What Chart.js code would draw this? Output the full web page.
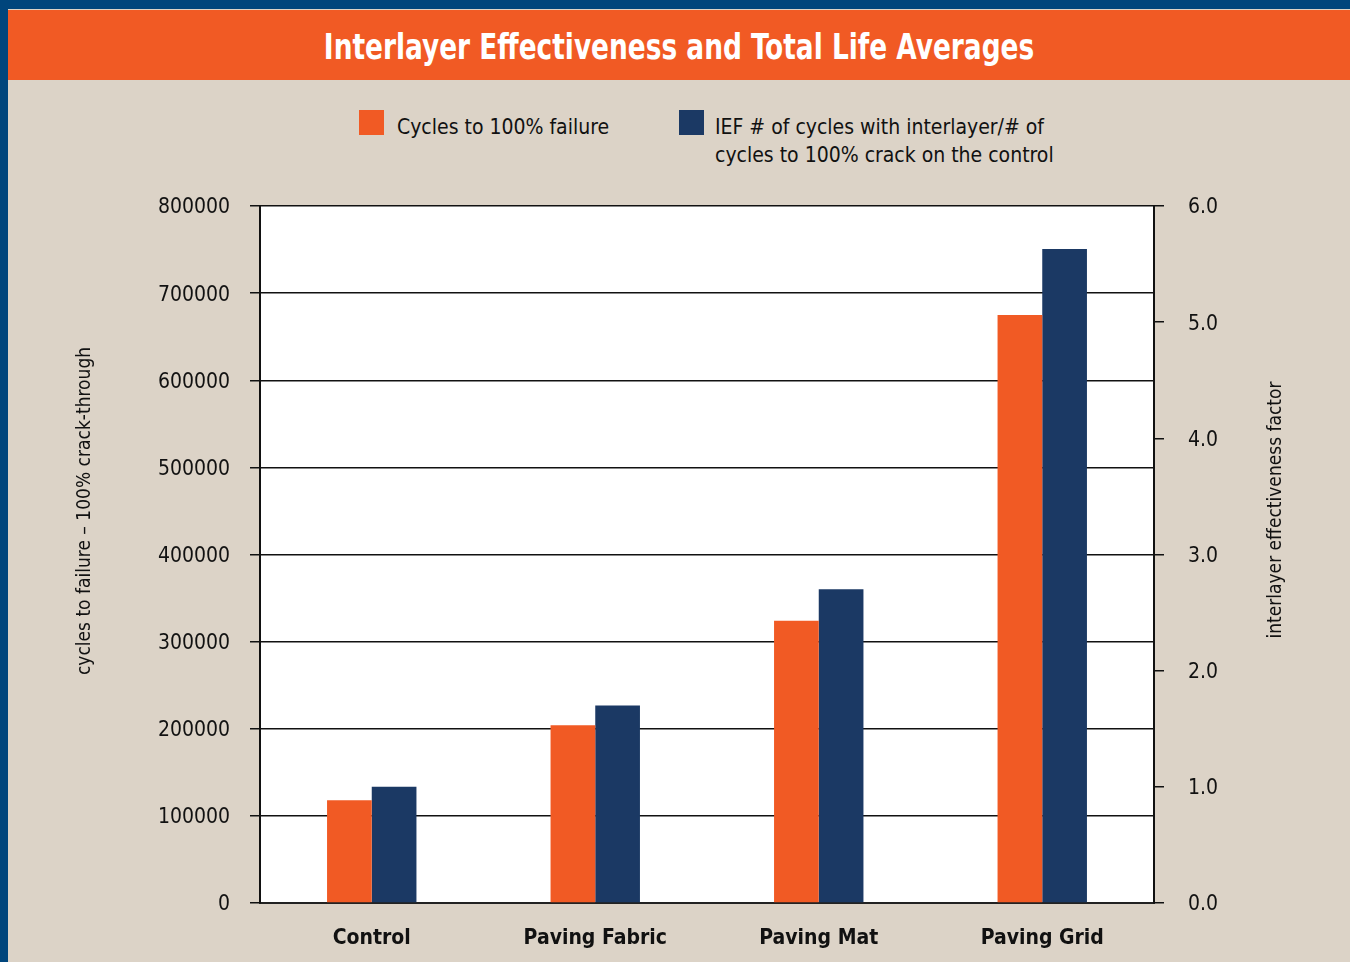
<!DOCTYPE html>
<html>
<head>
<meta charset="utf-8">
<script src="https://cdn.jsdelivr.net/npm/chart.js@4.4.1/dist/chart.umd.min.js"></script>
<style>
  html, body { margin: 0; padding: 0; }
  body {
    width: 1350px; height: 962px; overflow: hidden; position: relative;
    background: #00457c;
    font-family: 'DejaVu Sans Condensed', 'Liberation Sans Narrow', sans-serif;
    color: #111;
  }
  #panel { position: absolute; left: 8px; top: 9px; right: 0; bottom: 0; background: #dcd3c7; }
  #banner {
    position: absolute; left: 8px; top: 10px; width: 1342px; height: 70px;
    background: #f15a24;
  }
  #banner span {
    position: absolute; left: 0; right: 0; top: 2px; text-align: center;
    color: #fff; font-weight: bold; font-size: 36px; line-height: 70px;
    transform: scaleX(0.815);
  }
  .swatch { position: absolute; top: 110px; width: 25px; height: 25px; }
  .ltext { position: absolute; font-size: 21px; line-height: 28px; white-space: nowrap; }
  #chart { position: absolute; left: 0; top: 0; }
</style>
</head>
<body>
<div id="panel"></div>
<div id="banner"><span>Interlayer Effectiveness and Total Life Averages</span></div>
<div class="swatch" style="left:359px;background:#f15a24"></div>
<div class="ltext" style="left:397px;top:113px">Cycles to 100% failure</div>
<div class="swatch" style="left:679px;background:#1b3964"></div>
<div class="ltext" style="left:715px;top:113px">IEF # of cycles with interlayer/# of<br>cycles to 100% crack on the control</div>
<canvas id="chart" width="1350" height="962"></canvas>
<script>
// 数据
const categories = ['Control', 'Paving Fabric', 'Paving Mat', 'Paving Grid'];
const cyclesToFailure = [118000, 204000, 324000, 675000];
const iefValues = [1.0, 1.7, 2.7, 5.63];
const seriesNames = ['Cycles to 100% failure', 'IEF # of cycles with interlayer/# of cycles to 100% crack on the control'];
const leftTitle = 'cycles to failure \u2013 100% crack-through';
const rightTitle = 'interlayer effectiveness factor';

const FONT = "'DejaVu Sans Condensed', 'Liberation Sans Narrow', sans-serif";
const ORANGE = '#f15a24';
const NAVY = '#1b3964';

// 两侧竖排轴标题（右侧也是从下往上读）
const axisTitles = {
  id: 'axisTitles',
  afterDraw(chart) {
    const { ctx, chartArea } = chart;
    ctx.save();
    ctx.fillStyle = '#111';
    ctx.font = '19px ' + FONT;
    ctx.textAlign = 'center';
    ctx.textBaseline = 'middle';

    ctx.save();
    ctx.translate(chartArea.left - 175, chartArea.top + 305);
    ctx.rotate(-Math.PI / 2);
    ctx.fillText(leftTitle, 0, 0);
    ctx.restore();

    ctx.save();
    ctx.translate(chartArea.right + 122, chartArea.top + 304);
    ctx.rotate(-Math.PI / 2);
    ctx.fillText(rightTitle, 0, 0);
    ctx.restore();

    ctx.restore();
  }
};

new Chart(document.getElementById('chart'), {
  type: 'bar',
  data: {
    labels: categories,
    datasets: [
      { label: seriesNames[0], data: cyclesToFailure, backgroundColor: ORANGE, yAxisID: 'y' },
      { label: seriesNames[1], data: iefValues, backgroundColor: NAVY, yAxisID: 'y2' }
    ]
  },
  options: {
    responsive: false,
    animation: false,
    devicePixelRatio: 1,
    categoryPercentage: 0.4,
    barPercentage: 1.0,
    layout: { padding: { top: 206, left: 0, right: 0, bottom: 0 } },
    plugins: {
      legend: { display: false },
      tooltip: { enabled: false }
    },
    scales: {
      x: {
        grid: { display: false, drawTicks: false },
        border: { color: '#222', width: 2 },
        ticks: { color: '#111', padding: 23, font: { family: FONT, size: 21, weight: 'bold' } },
        afterFit(s) { s.height = 59; }
      },
      y: {
        position: 'left',
        min: 0, max: 800000,
        ticks: {
          stepSize: 100000, color: '#111', padding: 20, labelOffset: 2,
          font: { family: FONT, size: 21 },
          callback: v => String(v)
        },
        grid: { color: '#111', lineWidth: 1.5, tickLength: 10 },
        border: { color: '#111', width: 2 },
        afterFit(s) { s.width = 260; }
      },
      y2: {
        position: 'right',
        min: 0, max: 6,
        ticks: {
          stepSize: 1, color: '#111', padding: 24, labelOffset: 2,
          font: { family: FONT, size: 21 },
          callback: v => v.toFixed(1)
        },
        grid: { drawOnChartArea: false, color: '#111', lineWidth: 1.5, tickLength: 10 },
        border: { color: '#111', width: 2 },
        afterFit(s) { s.width = 196; }
      }
    }
  },
  plugins: [
    {
      id: 'plotBg',
      beforeDraw(chart) {
        const { ctx, chartArea: a } = chart;
        ctx.save();
        ctx.fillStyle = '#ffffff';
        ctx.fillRect(a.left, a.top, a.right - a.left, a.bottom - a.top);
        ctx.restore();
      }
    },
    axisTitles
  ]
});
</script>
</body>
</html>
